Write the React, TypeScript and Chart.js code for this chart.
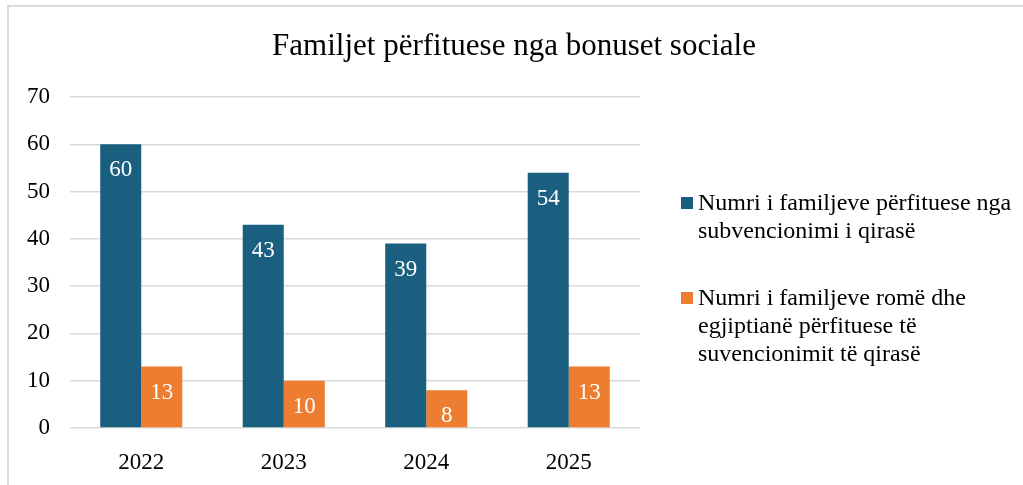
import React, { useEffect, useRef } from "react";
import { Chart, registerables } from "chart.js";

Chart.register(...registerables);

const TITLE = "Familjet përfituese nga bonuset sociale";
const CATEGORIES = ["2022", "2023", "2024", "2025"];
const SERIES_A_LABEL = ["Numri i familjeve përfituese nga", "subvencionimi i qirasë"];
const SERIES_A = [60, 43, 39, 54];
const SERIES_B_LABEL = ["Numri i familjeve romë dhe", "egjiptianë përfituese të", "suvencionimit të qirasë"];
const SERIES_B = [13, 10, 8, 13];
const Y_MIN = 0;
const Y_MAX = 70;
const Y_STEP = 10;

const FONT = '"Liberation Serif", "Times New Roman", serif';
const BLUE = "#1A5F80";
const ORANGE = "#ED7D31";
const GRID = "#D9D9D9";

const decorPlugin = {
  id: "decor",
  beforeDraw(chart: any) {
    const ctx = chart.ctx;
    ctx.save();
    ctx.fillStyle = "#ffffff";
    ctx.fillRect(0, 0, chart.width, chart.height);
    ctx.strokeStyle = GRID;
    ctx.lineWidth = 2;
    ctx.strokeRect(8, 6, chart.width + 20, chart.height + 20);
    ctx.restore();
  },
  afterDraw(chart: any) {
    const ctx = chart.ctx;
    ctx.save();
    // title
    ctx.fillStyle = "#000000";
    ctx.font = `31px ${FONT}`;
    ctx.textAlign = "center";
    ctx.textBaseline = "middle";
    ctx.fillText(TITLE, 514, 47);

    // data labels
    ctx.font = `23px ${FONT}`;
    ctx.fillStyle = "#ffffff";
    chart.data.datasets.forEach((ds: any, di: number) => {
      const meta = chart.getDatasetMeta(di);
      meta.data.forEach((bar: any, i: number) => {
        ctx.fillText(String(ds.data[i]), bar.x, bar.y + 26);
      });
    });

    // legend
    const entries = [
      { lines: chart.data.datasets[0].legendLines, color: chart.data.datasets[0].backgroundColor, y: 204 },
      { lines: chart.data.datasets[1].legendLines, color: chart.data.datasets[1].backgroundColor, y: 299 },
    ];
    ctx.textAlign = "left";
    ctx.font = `24px ${FONT}`;
    entries.forEach((e) => {
      ctx.fillStyle = e.color;
      ctx.fillRect(681, e.y - 7, 12, 12);
      ctx.fillStyle = "#000000";
      e.lines.forEach((ln: string, k: number) => {
        ctx.fillText(ln, 698, e.y + k * 28);
      });
    });
    ctx.restore();
  },
};

export default function App() {
  const ref = useRef<HTMLCanvasElement | null>(null);
  useEffect(() => {
    if (!ref.current) return;
    const chart = new Chart(ref.current, {
      type: "bar",
      data: {
        labels: CATEGORIES,
        datasets: [
          {
            label: SERIES_A_LABEL.join(" "),
            legendLines: SERIES_A_LABEL,
            data: SERIES_A,
            backgroundColor: BLUE,
            categoryPercentage: 0.576,
            barPercentage: 1,
          } as any,
          {
            label: SERIES_B_LABEL.join(" "),
            legendLines: SERIES_B_LABEL,
            data: SERIES_B,
            backgroundColor: ORANGE,
            categoryPercentage: 0.576,
            barPercentage: 1,
          } as any,
        ],
      },
      options: {
        animation: false,
        responsive: false,
        maintainAspectRatio: false,
        layout: { padding: { left: 0, top: 97, right: 383, bottom: 0 } },
        plugins: {
          legend: { display: false },
          title: { display: false },
          tooltip: { enabled: false },
        },
        scales: {
          x: {
            grid: { display: false, drawTicks: false },
            border: { display: false },
            ticks: { color: "#000", font: { family: FONT, size: 23 }, padding: 21 },
            afterFit(scale: any) {
              scale.height = 57;
            },
          },
          y: {
            min: Y_MIN,
            max: Y_MAX,
            grid: { color: GRID, lineWidth: 1.5, drawTicks: false },
            border: { display: false },
            ticks: { stepSize: Y_STEP, color: "#000", font: { family: FONT, size: 23 }, padding: 20 },
            afterFit(scale: any) {
              scale.width = 70;
            },
          },
        },
      },
      plugins: [decorPlugin],
    });
    return () => chart.destroy();
  }, []);
  return (
    <div style={{ position: "fixed", left: 0, top: 0, width: 1023, height: 485, background: "#fff" }}>
      <canvas ref={ref} width={1023} height={485} style={{ display: "block" }} />
    </div>
  );
}
